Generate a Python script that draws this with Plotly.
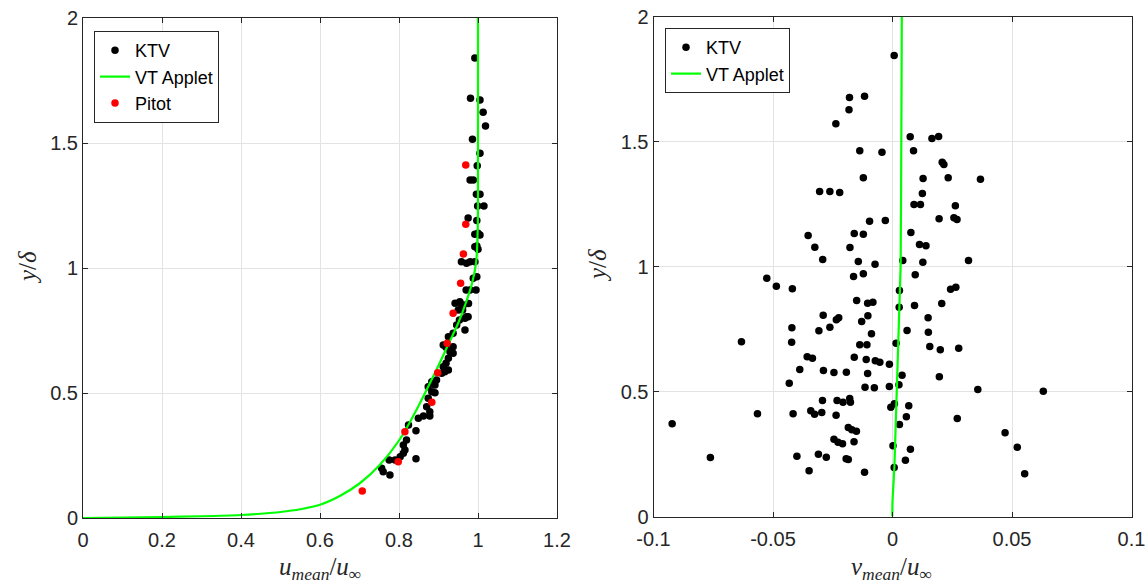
import plotly.graph_objects as go

# ---------------- data ----------------
# Left panel: KTV mean streamwise velocity
ktv_u = [0.992, 0.981, 1.005, 1.013, 1.019, 0.986, 1.005, 0.998, 0.980, 0.988,
         0.996, 1.005, 0.999, 1.015, 0.997, 0.975, 0.992, 1.005, 0.992, 1.000,
         0.958, 0.971, 0.992, 0.988, 0.997, 0.970, 0.995, 0.942, 0.954, 0.950,
         0.961, 0.967, 0.975, 0.946, 0.953, 0.967, 0.937, 0.925, 0.912, 0.919,
         0.937, 0.929, 0.937, 0.925, 0.919, 0.912, 0.925, 0.908, 0.916, 0.883,
         0.895, 0.874, 0.891, 0.883, 0.891, 0.874, 0.870, 0.878, 0.849, 0.862,
         0.878, 0.824, 0.843, 0.819, 0.811, 0.815, 0.811, 0.803, 0.775, 0.790,
         0.843, 0.756, 0.760, 0.777, 0.980, 0.963, 0.980, 1.000, 0.997, 0.971,
         0.976, 0.958]
ktv_y = [1.840, 1.679, 1.672, 1.623, 1.568, 1.515, 1.459, 1.409, 1.352, 1.352,
         1.295, 1.295, 1.248, 1.248, 1.190, 1.200, 1.135, 1.132, 1.085, 1.075,
         1.025, 1.019, 1.025, 0.959, 0.965, 0.912, 0.912, 0.859, 0.865, 0.832,
         0.832, 0.799, 0.805, 0.772, 0.792, 0.752, 0.739, 0.725, 0.692, 0.683,
         0.685, 0.665, 0.659, 0.639, 0.619, 0.605, 0.592, 0.579, 0.585, 0.545,
         0.552, 0.525, 0.532, 0.505, 0.501, 0.479, 0.445, 0.425, 0.399, 0.408,
         0.408, 0.372, 0.349, 0.312, 0.292, 0.272, 0.259, 0.245, 0.232, 0.232,
         0.237, 0.199, 0.185, 0.172, 1.025, 0.852, 0.912, 1.139, 1.088, 0.805,
         0.858, 0.845]

# Left panel: VT Applet profile
vt_u = [0.0, 0.1, 0.2, 0.3, 0.4, 0.45, 0.5, 0.55, 0.6, 0.65, 0.7, 0.75, 0.8,
        0.85, 0.88, 0.9, 0.925, 0.95, 0.97, 0.985, 0.995, 0.999, 1.0, 1.0]
vt_y = [0.0, 0.0018, 0.004, 0.007, 0.012, 0.017, 0.024, 0.035, 0.053, 0.088,
        0.138, 0.21, 0.31, 0.45, 0.545, 0.61, 0.695, 0.78, 0.864, 0.939, 1.02,
        1.14, 1.3, 2.0]

# Left panel: Pitot
pitot_u = [0.969, 0.969, 0.963, 0.956, 0.937, 0.922, 0.898, 0.883, 0.815, 0.798, 0.707]
pitot_y = [1.412, 1.175, 1.056, 0.939, 0.819, 0.699, 0.581, 0.463, 0.345, 0.225, 0.108]

# Right panel: KTV mean wall-normal velocity
ktv_v = [0.0007, -0.0180, -0.0117, -0.0182, -0.0237, 0.0074, 0.0165, 0.0193, -0.0137, -0.0044,
         0.0088, 0.0208, 0.0215, -0.0122, 0.0128, 0.0233, 0.0368, -0.0305, -0.0262, -0.0221,
         0.0125, 0.0090, 0.0117, 0.0263, -0.0096, -0.0030, 0.0195, 0.0257, 0.0270, -0.0353,
         -0.0160, -0.0122, 0.0077, -0.0325, -0.0178, 0.0113, 0.0140, -0.0292, -0.0143, -0.0073,
         0.0043, 0.0127, 0.0318, -0.0163, -0.0122, 0.0095, -0.0526, -0.0486, -0.0419, 0.0029,
         0.0243, 0.0265, -0.0150, -0.0104, -0.0082, 0.0028, 0.0092, 0.0206, -0.0290, -0.0235,
         -0.0225, -0.0103, -0.0129, 0.0149, -0.0421, -0.0308, -0.0262, -0.0088, 0.0061, 0.0150,
         -0.0632, -0.0422, -0.0137, -0.0107, 0.0015, 0.0156, 0.0200, 0.0277, -0.0357, -0.0335,
         -0.0160, -0.0110, -0.0072, -0.0053, -0.0013, -0.0388, -0.0289, -0.0245, -0.0193, -0.0104,
         0.0040, 0.0196, -0.0432, -0.0115, -0.0076, -0.0013, 0.0027, 0.0357, 0.0631, -0.0293,
         -0.0232, -0.0207, -0.0176, -0.0179, -0.0007, 0.0008, 0.0068, -0.0565, -0.0922, -0.0416,
         -0.0342, -0.0326, -0.0296, -0.0236, 0.0058, 0.0271, -0.0185, -0.0170, -0.0151, 0.0029,
         0.0471, -0.0245, -0.0228, -0.0209, -0.0161, 0.0002, 0.0075, 0.0522, -0.0762, -0.0400,
         -0.0310, -0.0277, -0.0194, -0.0185, 0.0054, -0.0349, -0.0117, 0.0007, 0.0553]
ktv_y2 = [1.844, 1.676, 1.681, 1.627, 1.571, 1.519, 1.512, 1.520, 1.463, 1.457,
          1.463, 1.417, 1.408, 1.355, 1.352, 1.355, 1.349, 1.300, 1.300, 1.296,
          1.292, 1.248, 1.248, 1.243, 1.181, 1.184, 1.191, 1.195, 1.188, 1.124,
          1.132, 1.129, 1.136, 1.077, 1.076, 1.088, 1.083, 1.028, 1.020, 1.009,
          1.024, 1.017, 1.024, 0.960, 0.971, 0.967, 0.953, 0.921, 0.911, 0.904,
          0.909, 0.917, 0.864, 0.853, 0.857, 0.837, 0.844, 0.852, 0.805, 0.787,
          0.795, 0.803, 0.780, 0.795, 0.755, 0.743, 0.757, 0.731, 0.744, 0.737,
          0.699, 0.697, 0.687, 0.687, 0.693, 0.680, 0.667, 0.673, 0.639, 0.633,
          0.637, 0.628, 0.623, 0.617, 0.609, 0.588, 0.584, 0.576, 0.577, 0.572,
          0.565, 0.559, 0.533, 0.517, 0.515, 0.520, 0.527, 0.508, 0.501, 0.464,
          0.464, 0.457, 0.457, 0.472, 0.437, 0.451, 0.443, 0.411, 0.371, 0.411,
          0.423, 0.409, 0.416, 0.405, 0.399, 0.392, 0.356, 0.347, 0.341, 0.368,
          0.335, 0.309, 0.297, 0.291, 0.299, 0.283, 0.269, 0.277, 0.236, 0.241,
          0.249, 0.237, 0.231, 0.228, 0.225, 0.183, 0.177, 0.196, 0.171]

# Right panel: VT Applet wall-normal profile
vt_v = [-0.0001, 0.0, 0.0008, 0.0016, 0.0025, 0.0031, 0.0034, 0.0036, 0.0038, 0.0039]
vt_y2 = [0.0, 0.06, 0.2, 0.45, 0.7, 0.94, 1.0, 1.3, 1.7, 2.0]

left_xticks = [0, 0.2, 0.4, 0.6, 0.8, 1, 1.2]
left_xticklabels = ["0", "0.2", "0.4", "0.6", "0.8", "1", "1.2"]
right_xticks = [-0.1, -0.05, 0, 0.05, 0.1]
right_xticklabels = ["-0.1", "-0.05", "0", "0.05", "0.1"]
yticks = [0, 0.5, 1, 1.5, 2]
yticklabels = ["0", "0.5", "1", "1.5", "2"]

# ---------------- figure ----------------
W, H = 1148, 584
AX = "#262626"
GRID = "#e3e3e3"
TICKFONT = dict(family="Liberation Sans, Arial, sans-serif", size=20, color=AX)

fig = go.Figure()
fig.add_trace(go.Scatter(x=ktv_u, y=ktv_y, mode="markers", name="KTV",
                         marker=dict(color="black", size=7.5, line=dict(width=0)),
                         xaxis="x", yaxis="y", legend="legend"))
fig.add_trace(go.Scatter(x=vt_u, y=vt_y, mode="lines", name="VT Applet",
                         line=dict(color="#00ff00", width=2.2, shape="spline", smoothing=1.0),
                         xaxis="x", yaxis="y", legend="legend"))
fig.add_trace(go.Scatter(x=pitot_u, y=pitot_y, mode="markers", name="Pitot",
                         marker=dict(color="#ff0000", size=7.5, line=dict(width=0)),
                         xaxis="x", yaxis="y", legend="legend"))
fig.add_trace(go.Scatter(x=ktv_v, y=ktv_y2, mode="markers", name="KTV",
                         marker=dict(color="black", size=7.5, line=dict(width=0)),
                         xaxis="x2", yaxis="y2", legend="legend2"))
fig.add_trace(go.Scatter(x=vt_v, y=vt_y2, mode="lines", name="VT Applet",
                         line=dict(color="#00ff00", width=2.2),
                         xaxis="x2", yaxis="y2", legend="legend2"))

def px_x(p):
    return p / W

def px_y(p):
    return 1 - p / H

common_axis = dict(showline=True, linecolor=AX, linewidth=1, mirror="ticks",
                   ticks="inside", ticklen=5, tickwidth=1, tickcolor=AX,
                   showgrid=True, gridcolor=GRID, gridwidth=1, zeroline=False,
                   tickfont=TICKFONT, automargin=False)

LEGFONT = dict(family="Liberation Sans, Arial, sans-serif", size=18, color="black")

fig.update_layout(
    width=W, height=H,
    margin=dict(l=0, r=0, t=0, b=0, autoexpand=False),
    paper_bgcolor="white", plot_bgcolor="white",
    xaxis=dict(domain=[px_x(83), px_x(557)], range=[0, 1.2], anchor="y",
               tickvals=left_xticks, ticktext=left_xticklabels,
               ticklabelstandoff=4, **common_axis),
    yaxis=dict(domain=[px_y(518), px_y(18)], range=[0, 2], anchor="x",
               tickvals=yticks, ticktext=yticklabels, **common_axis),
    xaxis2=dict(domain=[px_x(653.5), px_x(1131.5)], range=[-0.1, 0.1], anchor="y2",
                tickvals=right_xticks, ticktext=right_xticklabels,
                ticklabelstandoff=4, **common_axis),
    yaxis2=dict(domain=[px_y(516.5), px_y(16.5)], range=[0, 2], anchor="x2",
                tickvals=yticks, ticktext=yticklabels, **common_axis),
    legend=dict(x=px_x(94), y=px_y(31), xanchor="left", yanchor="top",
                bgcolor="white", bordercolor=AX, borderwidth=1,
                font=LEGFONT, tracegroupgap=0, itemwidth=30),
    legend2=dict(x=px_x(665), y=px_y(28), xanchor="left", yanchor="top",
                 bgcolor="white", bordercolor=AX, borderwidth=1,
                 font=LEGFONT, tracegroupgap=0, itemwidth=30),
)

TITLEFONT = dict(family="Liberation Serif, Times New Roman, serif", size=25, color=AX)
ann = [
    dict(text="<i>u</i><sub><i>mean</i></sub>/<i>u</i><sub>∞</sub>", x=px_x(320), y=px_y(568)),
    dict(text="<i>v</i><sub><i>mean</i></sub>/<i>u</i><sub>∞</sub>", x=px_x(892), y=px_y(568)),
    dict(text="<i>y</i>/<i>δ</i>", x=px_x(27), y=px_y(268), textangle=-90),
    dict(text="<i>y</i>/<i>δ</i>", x=px_x(598), y=px_y(266), textangle=-90),
]
for a in ann:
    fig.add_annotation(xref="paper", yref="paper", showarrow=False,
                       xanchor="center", yanchor="middle", font=TITLEFONT, **a)

fig.write_html("out.html")
